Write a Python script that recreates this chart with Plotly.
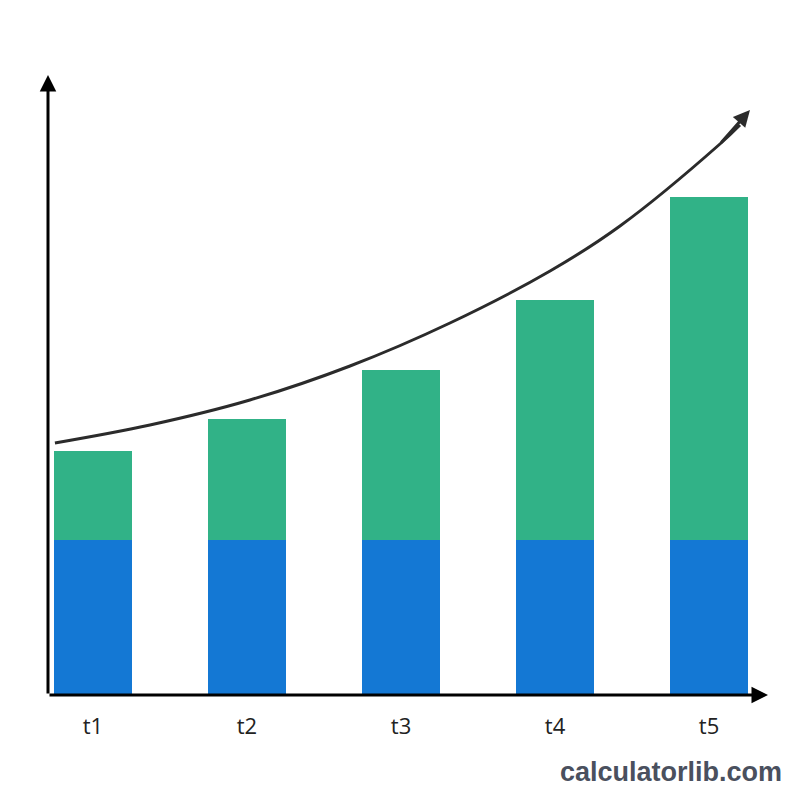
import plotly.graph_objects as go

categories = ["t1", "t2", "t3", "t4", "t5"]
positions = [0, 1, 2, 3, 4]
base_values = [155, 155, 155, 155, 155]
growth_values = [89, 121, 170, 240, 343]
trend_x = [-0.247, 0.370, 1.019, 1.669, 2.318, 2.968, 3.422, 4.071, 4.201]
trend_y = [252, 270, 295, 329, 372, 424, 469, 551, 570]
arrow_tip = (4.266, 585)

BLUE = "#1478D4"
GREEN = "#31B287"
INK = "#2b2b2b"

fig = go.Figure()
fig.add_trace(go.Bar(x=positions, y=base_values, marker=dict(color=BLUE, line=dict(width=0)),
                     width=0.506, hoverinfo="skip"))
fig.add_trace(go.Bar(x=positions, y=growth_values, marker=dict(color=GREEN, line=dict(width=0)),
                     width=0.506, hoverinfo="skip"))
fig.add_trace(go.Scatter(x=trend_x, y=trend_y, mode="lines",
                         line=dict(color=INK, width=3, shape="spline", smoothing=1.0),
                         hoverinfo="skip"))

xr = [-0.292, 4.383]
yr = [0, 620]

annotations = [
    dict(x=xr[1], y=0, ax=xr[0], ay=0, xref="x", yref="y", axref="x", ayref="y",
         showarrow=True, arrowhead=2, arrowsize=1.1, arrowwidth=3, arrowcolor="#000", text=""),
    dict(x=xr[0], y=yr[1], ax=xr[0], ay=0, xref="x", yref="y", axref="x", ayref="y",
         showarrow=True, arrowhead=2, arrowsize=1.1, arrowwidth=3, arrowcolor="#000", text=""),
    dict(x=arrow_tip[0], y=arrow_tip[1], ax=trend_x[-2], ay=trend_y[-2], xref="x", yref="y",
         axref="x", ayref="y", showarrow=True, arrowhead=2, arrowsize=1.1, arrowwidth=3,
         arrowcolor=INK, text=""),
    dict(x=1, y=0, xref="paper", yref="paper", xanchor="right", yanchor="top",
         xshift=16, yshift=-60, text="<b>calculatorlib.com</b>", showarrow=False,
         font=dict(family="Liberation Sans, Arial, sans-serif", size=27, color="#4a505e")),
]

fig.update_layout(
    width=800, height=800,
    margin=dict(l=48, r=32, t=75, b=105),
    barmode="stack", showlegend=False, bargap=0,
    plot_bgcolor="white", paper_bgcolor="white",
    xaxis=dict(range=xr, tickvals=positions, ticktext=categories, showgrid=False, zeroline=False,
               showline=False, ticks="", ticklabelstandoff=16,
               tickfont=dict(family="Open Sans, DejaVu Sans, sans-serif", size=22, color="#222")),
    yaxis=dict(range=yr, showgrid=False, zeroline=False, showline=False, showticklabels=False, ticks=""),
    annotations=annotations,
)

fig.write_html("out.html")
